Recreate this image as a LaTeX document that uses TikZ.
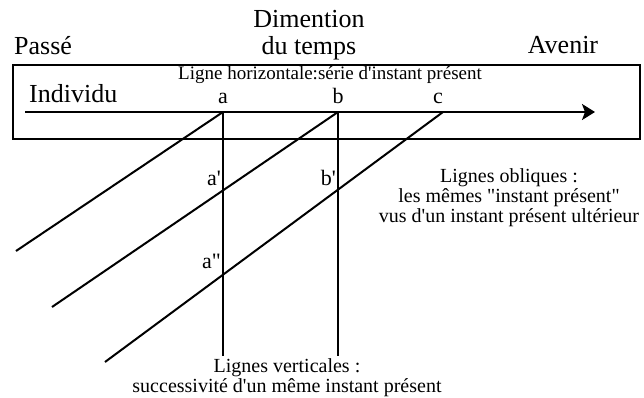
\documentclass[tikz,border=0pt]{standalone}
\usepackage{fontspec}
\setmainfont{Liberation Serif}[Ligatures=TeXOff]
\usetikzlibrary{arrows.meta,positioning}

\begin{document}
\begin{tikzpicture}[x=1pt,y=-1pt,
  big/.style={font=\fontsize{26}{27}\selectfont,inner sep=0pt},
  lbl/.style={font=\fontsize{22}{24}\selectfont,inner sep=0pt},
  note/.style={font=\fontsize{20}{20}\selectfont,inner sep=0pt,align=center},
  ln/.style={line width=2pt},
  arr/.style={ln,-{Stealth[length=13pt,width=16pt,inset=3pt]}}]
\useasboundingbox (0,0) rectangle (644,398);
% cadre
\node[draw,line width=2.4pt,inner sep=0pt,minimum width=627pt,minimum height=74pt,
  anchor=north west] (cadre) at (12,64) {};
% titres
\node[big,anchor=base west] (passe) at (14,55) {Passé};
\node[big,anchor=base] (dim) at (309,28) {Dimention};
\node[big,anchor=base] (temps) at (309,55) {du temps};
\node[big,anchor=base] (avenir) at (563,54) {Avenir};
\node[big,anchor=base west] (indiv) at (29,103) {Individu};
\node[font=\fontsize{19}{20}\selectfont,inner sep=0pt,anchor=base] (horiz) at (330,80)
  {Ligne horizontale:série d'instant présent};
% axe du temps
\coordinate (debut) at (25,112);
\coordinate (fin) at (595,112);
\draw[arr] (debut) -- (fin);
\coordinate (pa) at (223,112);
\coordinate (pb) at (338,112);
\coordinate (pc) at (443,112);
\node[lbl,anchor=base] (a) at (223,104) {a};
\node[lbl,anchor=base] (b) at (338,104) {b};
\node[lbl,anchor=base] (c) at (438,104) {c};
% lignes verticales et obliques
\coordinate (va) at (223,356);
\coordinate (vb) at (338,356);
\coordinate (oa) at (16,251);
\coordinate (ob) at (52,307);
\coordinate (oc) at (105,362);
\draw[ln] (pa) -- (va);
\draw[ln] (pb) -- (vb);
\draw[ln] (pa) -- (oa);
\draw[ln] (pb) -- (ob);
\draw[ln] (pc) -- (oc);
\node[lbl,anchor=base east] (a1) at (221,185) {a'};
\node[lbl,anchor=base east] (b1) at (336,185) {b'};
\node[lbl,anchor=base east] (a2) at (221,268) {a"};
% legendes
\node[note,anchor=base] (obliq) at (509,222) {Lignes obliques :\\
  les mêmes "instant présent"\\ vus d'un instant présent ultérieur};
\node[note,anchor=base] (vert) at (287,392) {Lignes verticales :\\
  successivité d'un même instant présent};
\end{tikzpicture}
\end{document}
